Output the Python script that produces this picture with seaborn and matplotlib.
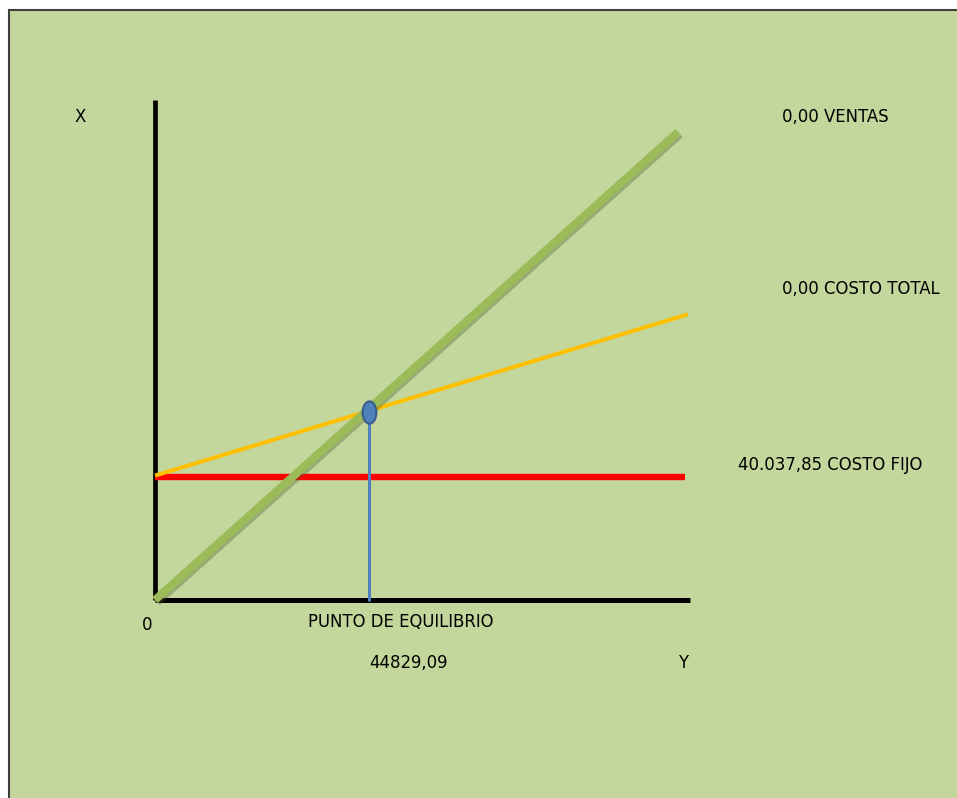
import matplotlib
matplotlib.use("Agg")
import matplotlib.pyplot as plt
import matplotlib.patheffects as pe
from matplotlib import font_manager as fm
from matplotlib.path import Path
from matplotlib.transforms import Affine2D
from matplotlib.patches import Rectangle
import seaborn as sns
import pandas as pd

sns.set_theme(style="white")
plt.rcParams["font.family"] = ["Liberation Sans", "DejaVu Sans"]

# Break-even model (quantity on the horizontal axis, amount on the vertical)
fixed_cost = 40037.85
breakeven_q = 44829.09
breakeven_amount = 61300.0

sales_q = [0.0, 109560.0]
sales_amount = [0.0, 152300.0]
total_q = [0.0, 111650.0]
total_amount = [40500.0, 93000.0]
fixed_q = [0.0, 111020.0]
fixed_amount = [40037.85, 40037.85]

axis_q_max = 112080.0
axis_amount_max = 162750.0

label_ventas = "0,00 VENTAS"
label_total = "0,00 COSTO TOTAL"
label_fijo = "40.037,85 COSTO FIJO"
label_pe = "PUNTO DE EQUILIBRIO"
label_pe_value = "44829,09"

# prefer a narrow face for the labels when one is available
narrow = None
for f in fm.fontManager.ttflist:
    nm = f.name.lower()
    if ("narrow" in nm or "condensed" in nm or str(f.stretch).startswith("condensed")
            or "condensed" in f.fname.lower() or "narrow" in f.fname.lower()):
        if f.style == "normal" and f.weight in (400, "normal", "regular"):
            narrow = f.fname
            break
if narrow:
    font = fm.FontProperties(fname=narrow, size=13.2)
else:
    font = fm.FontProperties(family=["Liberation Sans", "DejaVu Sans"], size=12.5)

W, H = 957, 798
fig = plt.figure(figsize=(W / 100, H / 100), dpi=100)
fig.patch.set_facecolor("white")

# green panel with dark frame on top/left
bg = fig.add_axes([0, 0, 1, 1], zorder=-5)
bg.set_axis_off()
bg.set_xlim(0, 1)
bg.set_ylim(0, 1)
bg.add_patch(Rectangle((9 / W, -0.01), 1.01 - 9 / W, (H - 10) / H + 0.01,
                       facecolor="#c3d69b", edgecolor="#404040", linewidth=1.5))

ax = fig.add_axes([0, 0, 1, 1], zorder=1)
ax.set_facecolor("none")
ax.set_axis_off()

# scale: origin at pixel (155, 600)
sx = breakeven_q / 214.0
sy = fixed_cost / 123.0
ax.set_xlim(-155 * sx, (W - 155) * sx)
ax.set_ylim(-(H - 600) * sy, 600 * sy)

shadow = [pe.SimpleLineShadow(offset=(1.5, -1.5), shadow_color="#4a5a30", alpha=0.35), pe.Normal()]

df_fixed = pd.DataFrame({"q": fixed_q, "amount": fixed_amount})
df_total = pd.DataFrame({"q": total_q, "amount": total_amount})
df_sales = pd.DataFrame({"q": sales_q, "amount": sales_amount})

sns.lineplot(data=df_fixed, x="q", y="amount", ax=ax, color="#ff0000", linewidth=4.6,
             solid_capstyle="butt", zorder=3)
sns.lineplot(data=df_total, x="q", y="amount", ax=ax, color="#ffc000", linewidth=2.9,
             solid_capstyle="butt", zorder=4)
sns.lineplot(data=df_sales, x="q", y="amount", ax=ax, color="#9bbb59", linewidth=5.8,
             solid_capstyle="butt", zorder=5, path_effects=shadow)

# axes drawn as thick black lines
ax.plot([0, 0], [0, axis_amount_max], color="black", linewidth=3.4, solid_capstyle="butt", zorder=2)
ax.plot([0, axis_q_max], [0, 0], color="black", linewidth=3.6, solid_capstyle="butt", zorder=2)

# break-even drop line and marker
ax.plot([breakeven_q, breakeven_q], [0, breakeven_amount], color="#4f81bd", linewidth=2.2, zorder=6)
ellipse = Path.unit_circle().transformed(Affine2D().scale(0.62, 1.0))
ax.plot([breakeven_q], [breakeven_amount], marker=ellipse, markersize=16,
        markerfacecolor="#4f81bd", markeredgecolor="#385d8a", markeredgewidth=1.5, zorder=7)

def px(x, y):
    return x / W, 1 - y / H

tk = dict(transform=fig.transFigure, fontproperties=font, color="black", va="center")
fig.text(*px(80, 117), "X", ha="center", **tk)
fig.text(*px(782, 117), label_ventas, ha="left", **tk)
fig.text(*px(782, 289), label_total, ha="left", **tk)
fig.text(*px(738, 465), label_fijo, ha="left", **tk)
fig.text(*px(147, 625), "0", ha="center", **tk)
fig.text(*px(401, 622), label_pe, ha="center", **tk)
fig.text(*px(408, 663), label_pe_value, ha="center", **tk)
fig.text(*px(683, 663), "Y", ha="center", **tk)

fig.savefig("out.png", dpi=100, facecolor=fig.get_facecolor())
